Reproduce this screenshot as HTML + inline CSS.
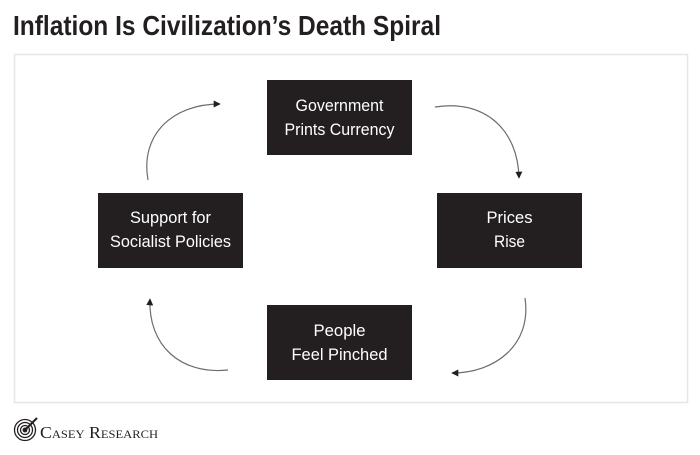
<!DOCTYPE html>
<html><head><meta charset="utf-8"><style>
html,body{margin:0;padding:0;background:#fff;}
svg{display:block}
</style></head><body>
<svg width="700" height="455" viewBox="0 0 700 455" xmlns="http://www.w3.org/2000/svg">
<defs>
<marker id="ah" viewBox="0 0 10 10" refX="9" refY="5" markerWidth="7" markerHeight="7" orient="auto" markerUnits="userSpaceOnUse">
<path d="M0,0 L10,5 L0,10 z" fill="#231f20"/>
</marker>
</defs>
<text x="13" y="35" font-family="Liberation Sans, sans-serif" font-weight="bold" font-size="28" fill="#231f20" textLength="428" lengthAdjust="spacingAndGlyphs">Inflation Is Civilization’s Death Spiral</text>
<rect x="14.5" y="54.5" width="673" height="348" fill="#fff" stroke="#e6e6e6" stroke-width="1.5"/>
<g fill="#231f20">
<rect x="267" y="80" width="145" height="75"/>
<rect x="437" y="193" width="145" height="75"/>
<rect x="267" y="305" width="145" height="75"/>
<rect x="98" y="193" width="145" height="75"/>
</g>
<g font-family="Liberation Sans, sans-serif" font-size="17" fill="#fff" text-anchor="middle" lengthAdjust="spacingAndGlyphs">
<text x="339.5" y="111" textLength="88" lengthAdjust="spacingAndGlyphs">Government</text>
<text x="339.5" y="135" textLength="110" lengthAdjust="spacingAndGlyphs">Prints Currency</text>
<text x="509.5" y="223" textLength="46" lengthAdjust="spacingAndGlyphs">Prices</text>
<text x="509.5" y="247" textLength="31" lengthAdjust="spacingAndGlyphs">Rise</text>
<text x="339.5" y="336" textLength="52" lengthAdjust="spacingAndGlyphs">People</text>
<text x="339.5" y="360" textLength="96" lengthAdjust="spacingAndGlyphs">Feel Pinched</text>
<text x="170.5" y="223" textLength="81" lengthAdjust="spacingAndGlyphs">Support for</text>
<text x="170.5" y="247" textLength="121" lengthAdjust="spacingAndGlyphs">Socialist Policies</text>
</g>
<g fill="none" stroke="#6d6d6d" stroke-width="1.2">
<path d="M435,107 C485,99 518,130 519,178" marker-end="url(#ah)"/>
<path d="M525,298 C532,345 495,373 452,373" marker-end="url(#ah)"/>
<path d="M228,370 C180,375 148,345 150,299" marker-end="url(#ah)"/>
<path d="M148,180 C140,135 172,104 220,104" marker-end="url(#ah)"/>
</g>
<g fill="none" stroke="#231f20" stroke-width="1.3">
<circle cx="25" cy="430" r="10.5"/>
<circle cx="25" cy="430" r="7.5"/>
<circle cx="25" cy="430" r="4.5"/>
<circle cx="25" cy="430" r="1.8" fill="#231f20"/>
<line x1="25" y1="430" x2="37" y2="418" stroke-width="2"/>
</g>
<text x="40" y="438" font-family="Liberation Serif, serif" font-size="17" fill="#231f20" style="font-variant:small-caps" textLength="118" lengthAdjust="spacingAndGlyphs">Casey Research</text>
</svg>
</body></html>
